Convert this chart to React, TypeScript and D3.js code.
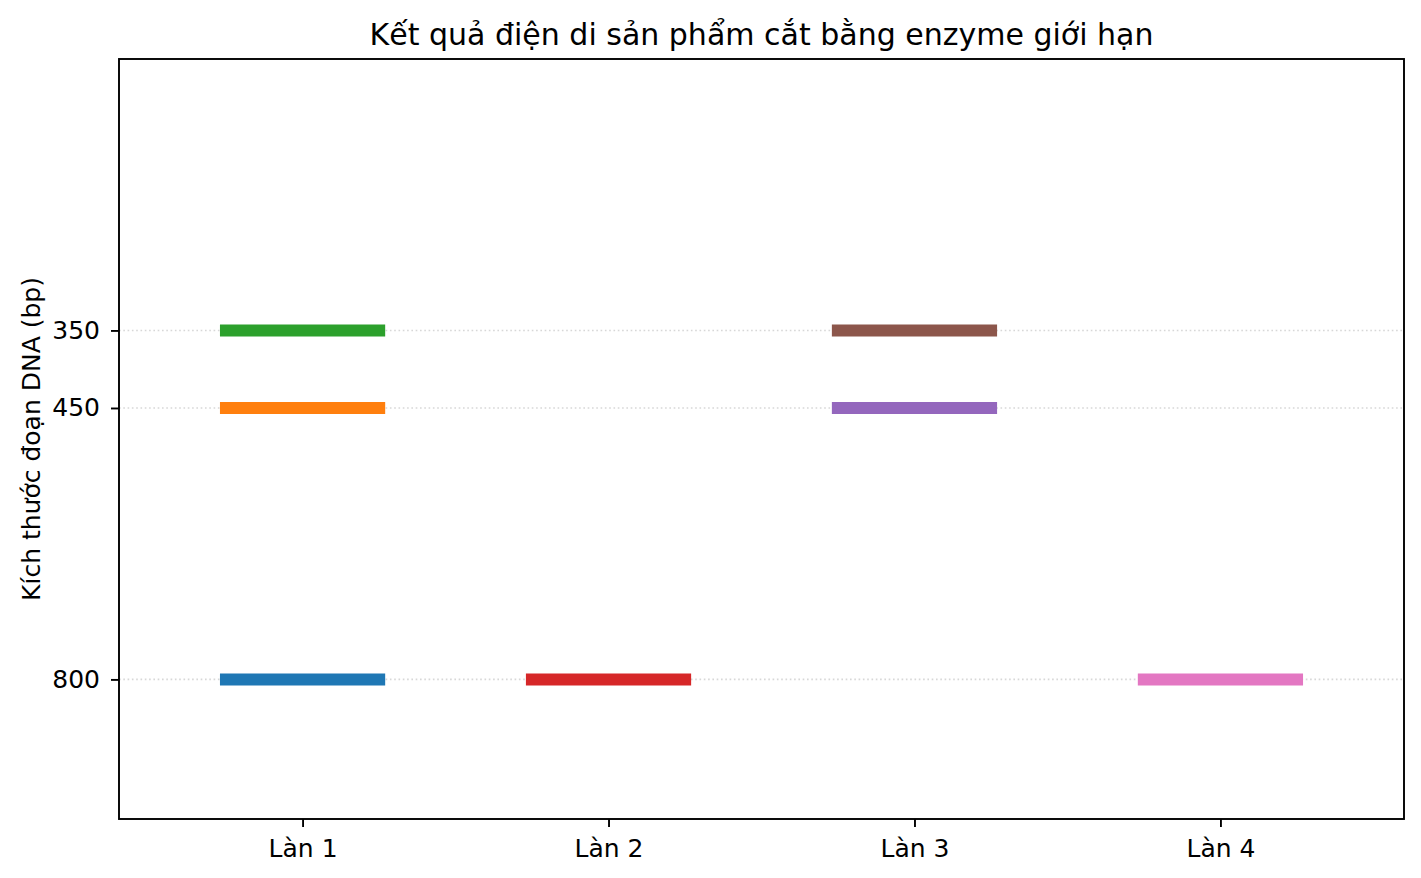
import React, { useEffect, useRef } from "react";
import * as d3 from "d3";

// lanes and the DNA bands found in each lane
const lanes = ["Làn 1", "Làn 2", "Làn 3", "Làn 4"];
const bandLane = [1, 1, 1, 2, 3, 3, 4];
const bandSize = [800, 450, 350, 800, 450, 350, 800];
const bandColor = ["#1f77b4", "#ff7f0e", "#2ca02c", "#d62728", "#9467bd", "#8c564b", "#e377c2"];
const yTicks = [350, 450, 800];

export default function App() {
  const ref = useRef<SVGSVGElement>(null);

  useEffect(() => {
    if (!ref.current) return;
    const W = 1421;
    const H = 878;
    const m = { left: 119, right: 17, top: 59, bottom: 59 };
    const font = "DejaVu Sans, sans-serif";

    const svg = d3.select(ref.current);
    svg.selectAll("*").remove();
    svg.attr("width", W).attr("height", H);
    svg.append("rect").attr("width", W).attr("height", H).attr("fill", "#fff");

    const x = d3.scaleLinear().domain([0.4, 4.6]).range([m.left, W - m.right]);
    const y = d3.scaleLinear().domain([0, 980]).range([m.top, H - m.bottom]);

    // dotted grid at band sizes
    svg.append("g")
      .selectAll("line")
      .data(yTicks)
      .enter()
      .append("line")
      .attr("x1", m.left)
      .attr("x2", W - m.right)
      .attr("y1", (d) => y(d))
      .attr("y2", (d) => y(d))
      .attr("stroke", "#b0b0b0")
      .attr("stroke-opacity", 0.5)
      .attr("stroke-width", 1.6)
      .attr("stroke-dasharray", "1.6,2.7");

    // bands
    svg.append("g")
      .selectAll("line")
      .data(bandSize)
      .enter()
      .append("line")
      .attr("x1", (d, i) => x(bandLane[i] - 0.27))
      .attr("x2", (d, i) => x(bandLane[i] + 0.27))
      .attr("y1", (d) => y(d))
      .attr("y2", (d) => y(d))
      .attr("stroke", (d, i) => bandColor[i])
      .attr("stroke-width", 12);

    // axes
    const xAxis = svg.append("g")
      .attr("transform", `translate(0,${H - m.bottom})`)
      .call(d3.axisBottom(x).tickValues([1, 2, 3, 4]).tickFormat((d) => lanes[(d as number) - 1]).tickSize(8).tickPadding(12));
    const yAxis = svg.append("g")
      .attr("transform", `translate(${m.left},0)`)
      .call(d3.axisLeft(y).tickValues(yTicks).tickSize(8).tickPadding(11));

    [xAxis, yAxis].forEach((g) => {
      g.select(".domain").remove();
      g.selectAll("line").attr("stroke", "#000").attr("stroke-width", 1.9);
      g.selectAll("text").attr("font-family", font).attr("font-size", 25).attr("fill", "#000");
    });

    // frame
    svg.append("rect")
      .attr("x", m.left)
      .attr("y", m.top)
      .attr("width", W - m.left - m.right)
      .attr("height", H - m.top - m.bottom)
      .attr("fill", "none")
      .attr("stroke", "#000")
      .attr("stroke-width", 1.9);

    svg.append("text")
      .attr("x", (m.left + W - m.right) / 2)
      .attr("y", 45)
      .attr("text-anchor", "middle")
      .attr("font-family", font)
      .attr("font-size", 30)
      .text("Kết quả điện di sản phẩm cắt bằng enzyme giới hạn");

    svg.append("text")
      .attr("transform", `translate(40,${(m.top + H - m.bottom) / 2}) rotate(-90)`)
      .attr("text-anchor", "middle")
      .attr("font-family", font)
      .attr("font-size", 25)
      .text("Kích thước đoạn DNA (bp)");
  }, []);

  return <svg ref={ref} style={{ position: "absolute", left: 0, top: 0 }} />;
}
